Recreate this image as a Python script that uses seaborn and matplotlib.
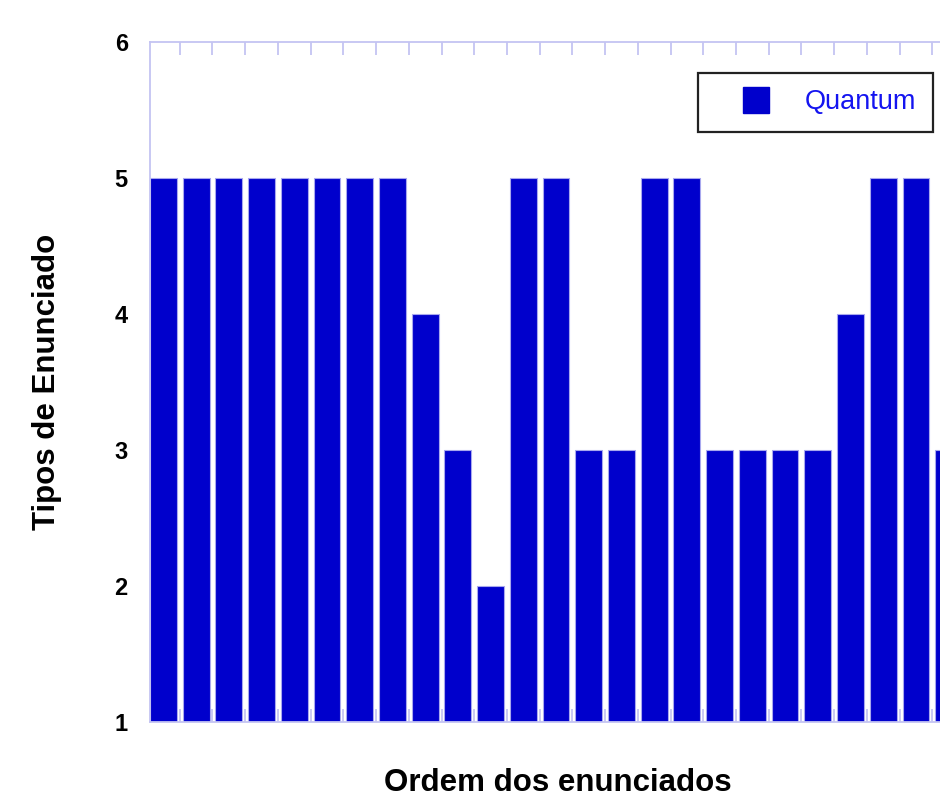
import numpy as np
import pandas as pd
import matplotlib
matplotlib.use("Agg")
import matplotlib.pyplot as plt
import seaborn as sns
from matplotlib.lines import Line2D

# valores (o último está cortado na borda direita)
tipos = [5, 5, 5, 5, 5, 5, 5, 5, 4, 3, 2, 5, 5, 3, 3, 5, 5, 3, 3, 3, 3, 4, 5, 5, 3]
ordem = list(range(1, len(tipos) + 1))
y_ticks = [1, 2, 3, 4, 5, 6]
serie = "Quantum"

df = pd.DataFrame({"ordem": ordem, "tipo": tipos})

sns.set_style("white")
plt.rcParams["font.family"] = ["Liberation Sans", "DejaVu Sans"]
plt.rcParams["text.color"] = "black"
plt.rcParams["axes.labelcolor"] = "black"
plt.rcParams["ytick.labelcolor"] = "black"

azul = "#0000cc"
spine_cor = "#c4c4f2"

fig = plt.figure(figsize=(9.4, 7.95), dpi=100)
W, H = 940, 795
ax = fig.add_axes([150 / W, (H - 722) / H, 815 / W, 680 / H])

sns.barplot(data=df, x="ordem", y="tipo", color=azul, saturation=1,
            width=0.82, edgecolor="#a8a8ee", linewidth=0.8, ax=ax)

ax.set_xlim(-0.41, len(tipos) - 0.59)
ax.set_ylim(1, 6)
ax.set_yticks(y_ticks)
ax.set_yticklabels([str(v) for v in y_ticks], fontsize=17, fontweight="bold", color="black")

# marcas entre as barras, em cima e em baixo
ax.set_xticks(np.arange(len(tipos)) + 0.5)
ax.tick_params(axis="x", direction="in", top=True, bottom=True,
               labelbottom=False, length=9.5, width=1.3, color=spine_cor)
ax.tick_params(axis="y", direction="in", length=4, width=1, color=spine_cor, pad=16)

for s in ["left", "top", "bottom", "right"]:
    ax.spines[s].set_color(spine_cor)
    ax.spines[s].set_linewidth(1.3)

ax.set_xlabel("Ordem dos enunciados", fontsize=22.5, fontweight="bold", va="top", color="black")
ax.xaxis.set_label_coords(0.5, -0.068)
ax.set_ylabel("Tipos de Enunciado", fontsize=22.5, fontweight="bold", va="center", color="black")
ax.yaxis.set_label_coords(-0.126, 0.5)

handle = Line2D([], [], marker="s", linestyle="none", markersize=18.5,
                markerfacecolor=azul, markeredgecolor=azul)
leg = ax.legend([handle], [serie], loc="upper left",
                bbox_to_anchor=(698 / W, 1 - 73 / H), bbox_transform=fig.transFigure,
                borderaxespad=0, fontsize=19.5, handlelength=3.05, handletextpad=0.3,
                borderpad=0.6, fancybox=False, framealpha=1, edgecolor="#222222")
leg.get_frame().set_linewidth(1.6)
for t in leg.get_texts():
    t.set_color("#1414f0")

fig.savefig("out.png", dpi=100)
